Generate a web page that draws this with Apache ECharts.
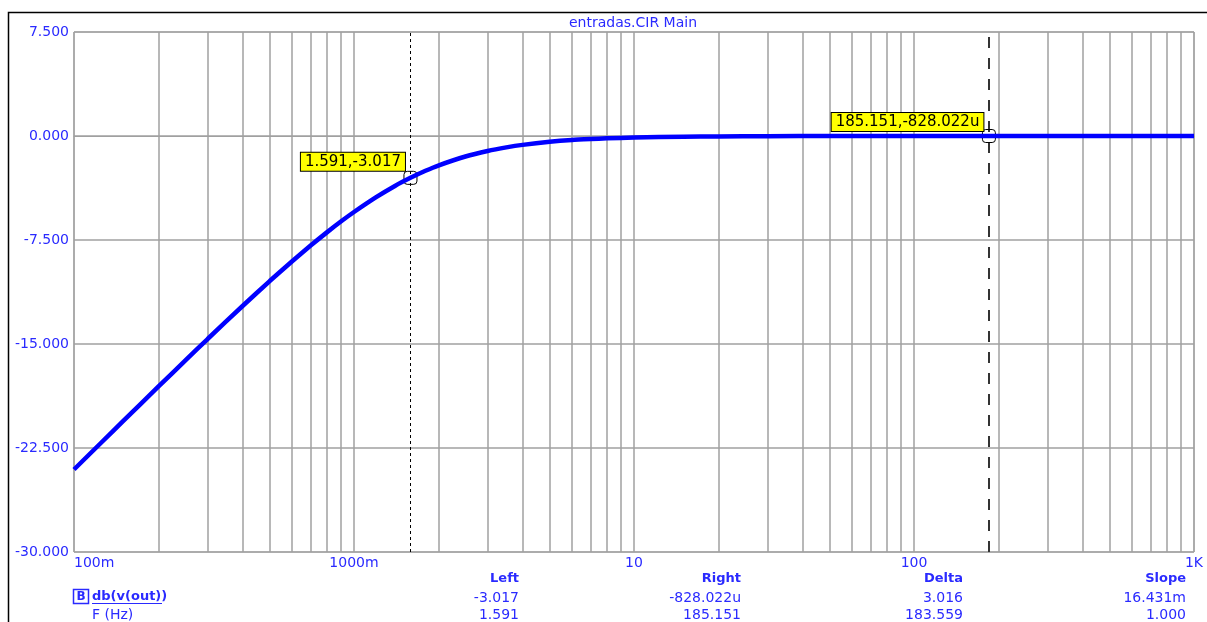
<!DOCTYPE html>
<html>
<head>
<meta charset="utf-8">
<title>entradas.CIR Main</title>
<script src="https://cdn.jsdelivr.net/npm/echarts@6/dist/echarts.min.js"></script>
<style>
  html, body { margin: 0; padding: 0; background: #ffffff; }
  #chart { width: 1207px; height: 622px; }
</style>
</head>
<body>
<div id="chart"></div>
<script>
// Frequency response of db(v(out)) : frequency in Hz, gain in dB
const freqHz = [0.1, 0.125, 0.15, 0.2, 0.25, 0.3, 0.4, 0.5, 0.6, 0.7, 0.8, 0.9,
  1.0, 1.2, 1.4, 1.591, 1.8, 2.0, 2.5, 3.0, 3.5, 4.0, 5.0, 6.0, 7.0, 8.0,
  10, 15, 20, 30, 50, 100, 185.151, 300, 1000];
const gainDb = [-24.05, -22.12, -20.55, -18.08, -16.18, -14.64, -12.26, -10.46, -9.05, -7.90, -6.95, -6.15,
  -5.48, -4.41, -3.60, -3.017, -2.51, -2.13, -1.48, -1.08, -0.82, -0.64, -0.42, -0.29, -0.22, -0.17,
  -0.11, -0.05, -0.03, -0.01, -0.004, -0.001, -0.000828, -0.0001, 0];

// Axis ticks and labels
const xTickValues = [0.1, 1, 10, 100, 1000];
const xTickLabels = ['100m', '1000m', '10', '100', '1K'];
const yTicks = [-30, -22.5, -15, -7.5, 0, 7.5];

// Cursor readouts
const cursorLeft = { f: 1.591, db: -3.017, tag: '1.591,-3.017' };
const cursorRight = { f: 185.151, db: -0.000828022, tag: '185.151,-828.022u' };
const readoutHeaders = ['Left', 'Right', 'Delta', 'Slope'];
const readoutDb = ['-3.017', '-828.022u', '3.016', '16.431m'];
const readoutF = ['1.591', '185.151', '183.559', '1.000'];
const traceName = 'db(v(out))';
const freqName = 'F (Hz)';
const plotTitle = 'entradas.CIR Main';

const BLUE = '#2a2aff';
const GRID = '#a0a0a0';
const FONT = 'DejaVu Sans';

// Minor log grid lines at 2..9 within each decade
const minorGrid = [];
for (let d = 0; d < xTickValues.length - 1; d++) {
  for (let k = 2; k <= 9; k++) minorGrid.push({ xAxis: xTickValues[d] * k });
}

const chart = echarts.init(document.getElementById('chart'), null, { renderer: 'canvas' });

function cursorPoint(c, dy) {
  return {
    coord: [c.f, c.db],
    symbol: 'roundRect',
    symbolSize: 13,
    itemStyle: { color: 'rgba(0,0,0,0)', borderColor: '#000', borderWidth: 1 },
    label: {
      show: true,
      formatter: c.tag,
      position: [1.5, dy],
      align: 'right',
      verticalAlign: 'bottom',
      color: '#000',
      fontFamily: FONT,
      fontSize: 15,
      lineHeight: 17,
      backgroundColor: '#ffff00',
      borderColor: '#000',
      borderWidth: 1,
      padding: [1, 4, 0, 4]
    }
  };
}

const readoutRight = [519, 741, 963, 1186];
const graphics = [
  { type: 'rect', shape: { x: 8.5, y: 12.5, width: 1300, height: 700 },
    style: { fill: null, stroke: '#000', lineWidth: 1.5 }, silent: true },
  { type: 'text', x: 633, y: 23,
    style: { text: plotTitle, fill: BLUE, font: '14px "' + FONT + '"', align: 'center', verticalAlign: 'middle' } },
  { type: 'rect', shape: { x: 73.5, y: 589.5, width: 15, height: 14 },
    style: { fill: null, stroke: BLUE, lineWidth: 1.5 } },
  { type: 'text', x: 81, y: 597,
    style: { text: 'B', fill: BLUE, font: 'bold 12px "' + FONT + '"', align: 'center', verticalAlign: 'middle' } },
  { type: 'text', x: 92, y: 597,
    style: { text: traceName, fill: BLUE, font: 'bold 13px "' + FONT + '"', align: 'left', verticalAlign: 'middle' } },
  { type: 'line', shape: { x1: 92, y1: 603.5, x2: 162, y2: 603.5 },
    style: { stroke: BLUE, lineWidth: 1 } },
  { type: 'text', x: 92, y: 615,
    style: { text: freqName, fill: BLUE, font: '14px "' + FONT + '"', align: 'left', verticalAlign: 'middle' } }
];
readoutHeaders.forEach((h, i) => {
  graphics.push({ type: 'text', x: readoutRight[i], y: 579,
    style: { text: h, fill: BLUE, font: 'bold 13px "' + FONT + '"', align: 'right', verticalAlign: 'middle' } });
  graphics.push({ type: 'text', x: readoutRight[i], y: 598,
    style: { text: readoutDb[i], fill: BLUE, font: '14px "' + FONT + '"', align: 'right', verticalAlign: 'middle' } });
  graphics.push({ type: 'text', x: readoutRight[i], y: 615,
    style: { text: readoutF[i], fill: BLUE, font: '14px "' + FONT + '"', align: 'right', verticalAlign: 'middle' } });
});

const option = {
  animation: false,
  backgroundColor: '#ffffff',
  grid: { left: 74, right: 13, top: 32, bottom: 70, show: true, borderColor: GRID, borderWidth: 1 },
  xAxis: {
    type: 'log',
    logBase: 10,
    min: xTickValues[0],
    max: xTickValues[xTickValues.length - 1],
    axisLine: { show: true, lineStyle: { color: GRID } },
    axisTick: { show: false },
    splitLine: { show: true, lineStyle: { color: GRID, width: 1.5 } },
    axisLabel: {
      color: BLUE, fontFamily: FONT, fontSize: 14, margin: 4,
      alignMinLabel: 'left',
      formatter: v => {
        const i = xTickValues.findIndex(t => Math.abs(Math.log10(t) - Math.log10(v)) < 1e-6);
        return i >= 0 ? xTickLabels[i] : '';
      }
    }
  },
  yAxis: {
    type: 'value',
    min: yTicks[0],
    max: yTicks[yTicks.length - 1],
    interval: 7.5,
    axisLine: { show: false },
    axisTick: { show: false },
    splitLine: { show: true, lineStyle: { color: GRID, width: 1.5 } },
    axisLabel: { color: BLUE, fontFamily: FONT, fontSize: 14, margin: 5, formatter: v => v.toFixed(3) }
  },
  series: [
    {
      // decade sub-grid
      type: 'line',
      data: [],
      silent: true,
      markLine: {
        silent: true,
        symbol: 'none',
        label: { show: false },
        lineStyle: { color: GRID, width: 1.5, type: 'solid' },
        data: minorGrid
      }
    },
    {
      name: traceName,
      type: 'line',
      data: freqHz.map((f, i) => [f, gainDb[i]]),
      showSymbol: false,
      smooth: 0.2,
      lineStyle: { color: '#0000ff', width: 4.5 },
      z: 5,
      markLine: {
        silent: true,
        symbol: 'none',
        label: { show: false },
        data: [
          { xAxis: cursorLeft.f, lineStyle: { color: '#000', width: 1, type: [3, 3] } },
          { xAxis: cursorRight.f, lineStyle: { color: '#333', width: 2, type: [11, 10] } }
        ]
      },
      markPoint: {
        silent: true,
        data: [cursorPoint(cursorLeft, 0), cursorPoint(cursorRight, 2)]
      }
    }
  ],
  graphic: graphics
};

chart.setOption(option);
</script>
</body>
</html>
